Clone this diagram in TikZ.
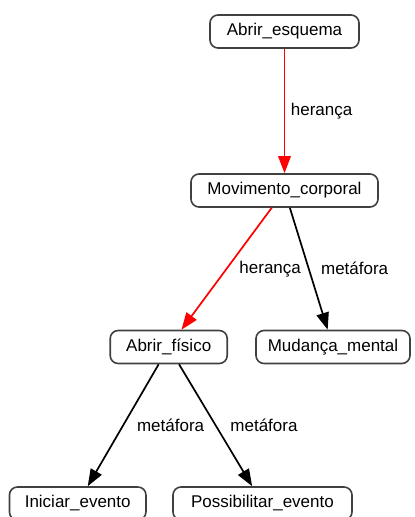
\documentclass[tikz,border=0pt]{standalone}
\usepackage{fontspec}
\setmainfont{Liberation Sans}
\usetikzlibrary{arrows.meta}
\begin{document}
\begin{tikzpicture}[x=1pt,y=-1pt,
  txt/.style={font=\fontsize{17}{20}\selectfont},
  box/.style={txt, draw=black!75, line width=1.6pt, rounded corners=8pt, fill=white, minimum height=33pt, inner sep=0pt},
  rel/.style={line width=1.7pt, -{Triangle[length=17pt,width=12.5pt]}},
  inh/.style={rel, draw=red},
  lbl/.style={txt, midway, anchor=west, inner sep=0pt}]
\useasboundingbox (0,0) rectangle (415,517);
\clip (0,0) rectangle (415,517);
\node[box, minimum width=149pt] (ae) at (284.5,31.5) {Abrir\_esquema};
\node[box, minimum width=187pt] (mc) at (284.5,190.5) {Movimento\_corporal};
\node[box, minimum width=117pt] (af) at (168.7,347) {Abrir\_físico};
\node[box, minimum width=154pt] (mm) at (333,347) {Mudança\_mental};
\node[box, minimum width=136.5pt] (ie) at (77.7,503.5) {Iniciar\_evento};
\node[box, minimum width=179pt] (pe) at (262.5,503.5) {Possibilitar\_evento};
\draw[inh] (ae) -- (mc) node[lbl, xshift=5.5pt] (l1) {herança};
\draw[inh] (mc) -- (af) node[lbl, xshift=12pt] (l2) {herança};
\draw[rel] (mc) -- (mm) node[lbl, xshift=11.5pt] (l3) {metáfora};
\draw[rel] (af) -- (ie) node[lbl, xshift=13pt] (l4) {metáfora};
\draw[rel] (af) -- (pe) node[lbl, xshift=14pt] (l5) {metáfora};
\end{tikzpicture}
\end{document}
